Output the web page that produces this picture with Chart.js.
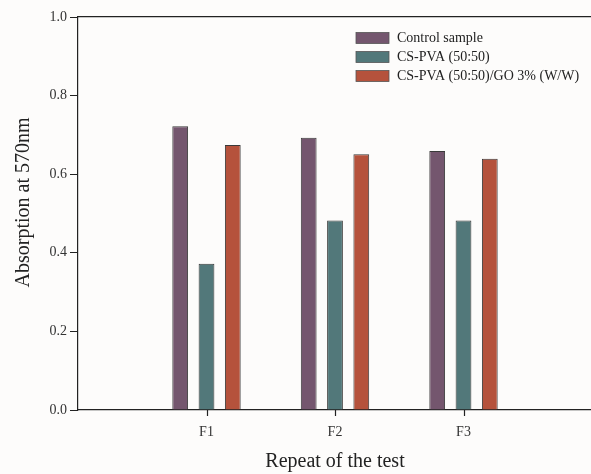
<!DOCTYPE html>
<html>
<head>
<meta charset="utf-8">
<script src="https://cdn.jsdelivr.net/npm/chart.js@4.4.0/dist/chart.umd.min.js"></script>
<style>
  html, body { margin: 0; padding: 0; background: #fdfcfb; overflow: hidden; }
  #wrap { position: absolute; left: 0; top: 0; width: 600px; height: 474px; }
</style>
</head>
<body>
<div id="wrap"><canvas id="grafico" width="600" height="474"></canvas></div>
<script>
// dados
const repeats = ['F1', 'F2', 'F3'];
const seriesNames = ['Control sample', 'CS-PVA (50:50)', 'CS-PVA (50:50)/GO 3% (W/W)'];
const controlSample = [0.722, 0.693, 0.659];
const csPva = [0.372, 0.482, 0.482];
const csPvaGo = [0.674, 0.651, 0.639];
const yTicks = [0, 0.2, 0.4, 0.6, 0.8, 1.0];

const cores = ['#74566e', '#52787a', '#b5523c'];
const serif = "'Liberation Serif', 'DejaVu Serif', serif";

// posições 1..3 no eixo x, com uma casa vazia em cada ponta
const xLabels = [''].concat(repeats, ['']);
const valores = [controlSample, csPva, csPvaGo];
function pontos(arr) { return arr.map((v, i) => ({ x: i + 1, y: v })); }

// legenda, marcas do eixo x e título do eixo y desenhados à mão
const extras = {
  id: 'extras',
  afterDraw(chart) {
    const ctx = chart.ctx;
    const sx = chart.scales.x;
    ctx.save();

    // marquinhas embaixo de F1, F2, F3
    ctx.strokeStyle = '#222';
    ctx.lineWidth = 1.2;
    repeats.forEach((r, i) => {
      const px = Math.round(sx.getPixelForValue(i + 1)) + 0.5;
      ctx.beginPath();
      ctx.moveTo(px, sx.top);
      ctx.lineTo(px, sx.top + 6);
      ctx.stroke();
    });

    ctx.font = '14px ' + serif;
    ctx.textBaseline = 'middle';
    chart.data.datasets.forEach((ds, i) => {
      const y = 38 + i * 19;
      ctx.fillStyle = ds.backgroundColor;
      ctx.fillRect(356, y - 5.5, 33, 11);
      ctx.strokeStyle = '#555';
      ctx.lineWidth = 0.8;
      ctx.strokeRect(356, y - 5.5, 33, 11);
      ctx.fillStyle = '#222';
      ctx.textAlign = 'left';
      ctx.fillText(ds.label, 397, y);
    });

    ctx.translate(24, 202.5);
    ctx.rotate(-Math.PI / 2);
    ctx.font = '20px ' + serif;
    ctx.textAlign = 'center';
    ctx.fillText('Absorption at 570nm', 0, 0);
    ctx.restore();
  }
};

new Chart(document.getElementById('grafico'), {
  type: 'bar',
  data: {
    datasets: seriesNames.map((nome, i) => ({
      label: nome,
      data: pontos(valores[i]),
      backgroundColor: cores[i],
      borderColor: '#3a3a3a',
      borderWidth: 1,
      categoryPercentage: 0.614,
      barPercentage: 0.6
    }))
  },
  options: {
    responsive: false,
    animation: false,
    layout: { padding: { left: 0, top: 17, right: 4, bottom: 0 } },
    plugins: { legend: { display: false }, tooltip: { enabled: false } },
    scales: {
      x: {
        type: 'linear',
        min: 0,
        max: xLabels.length - 1,
        offset: false,
        afterFit: s => { s.height = 64; },
        border: { display: true, color: '#222', width: 1.2 },
        grid: { display: false, tickLength: 6 },
        ticks: {
          stepSize: 1,
          padding: 8,
          color: '#333',
          font: { family: serif, size: 14 },
          autoSkip: false,
          maxRotation: 0,
          callback: v => xLabels[v] || ''
        },
        title: {
          display: true,
          text: 'Repeat of the test',
          color: '#222',
          font: { family: serif, size: 20 },
          padding: { top: 0, bottom: 0 }
        }
      },
      xTop: {
        type: 'linear',
        position: 'top',
        min: 0,
        max: xLabels.length - 1,
        offset: false,
        afterFit: s => { s.height = 0; },
        border: { display: true, color: '#222', width: 1.2 },
        grid: { display: false },
        ticks: { display: false }
      },
      y: {
        min: 0,
        max: 1,
        afterFit: s => { s.width = 78; },
        afterBuildTicks: s => { s.ticks = yTicks.map(v => ({ value: v })); },
        border: { display: true, color: '#222', width: 1.2 },
        grid: { drawOnChartArea: false, drawTicks: true, tickLength: 8, color: '#222' },
        ticks: {
          padding: 3,
          color: '#333',
          font: { family: serif, size: 14 },
          callback: v => Number(v).toFixed(1)
        },
        title: { display: false }
      }
    }
  },
  plugins: [extras]
});
</script>
</body>
</html>
